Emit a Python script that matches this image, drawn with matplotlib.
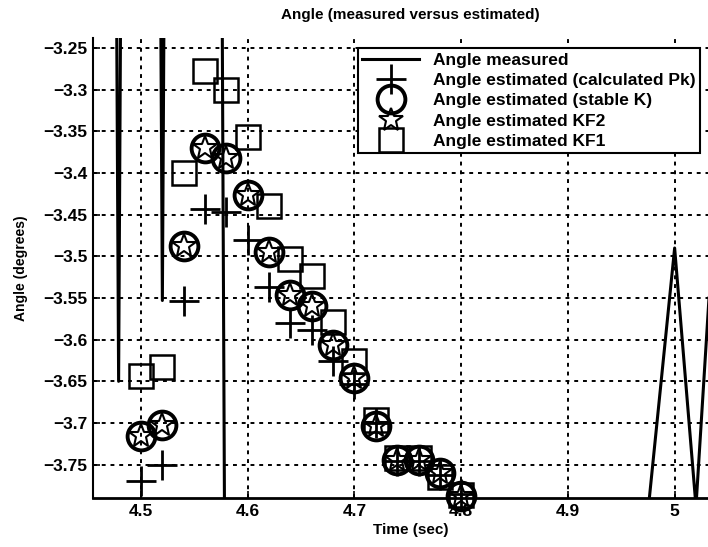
import matplotlib
matplotlib.use("Agg")
import matplotlib.pyplot as plt
from matplotlib import rc

rc('font', family='Liberation Sans', weight='bold')

# measured angle (noisy, mostly off the visible range)
meas_time = [4.470, 4.479, 4.488, 4.511, 4.520, 4.529, 4.570, 4.586, 4.950, 4.970, 5.000, 5.020, 5.040, 5.060]
meas_angle = [-1.5, -3.650, -1.5, -1.5, -3.553, -1.5, -1.5, -6.0, -6.0, -3.87, -3.49, -3.80, -3.39, -3.0]

# estimator outputs, one sample every 0.02 s
est_time = [4.50, 4.52, 4.54, 4.56, 4.58, 4.60, 4.62, 4.64, 4.66, 4.68, 4.70, 4.72, 4.74, 4.76, 4.78, 4.80]
calc_pk = [-3.770, -3.750, -3.553, -3.443, -3.447, -3.480, -3.537, -3.580,
           -3.588, -3.625, -3.653, -3.700, -3.745, -3.745, -3.762, -3.785]
stable_k = [-3.716, -3.702, -3.488, -3.370, -3.382, -3.426, -3.495, -3.546,
            -3.560, -3.606, -3.646, -3.704, -3.744, -3.744, -3.760, -3.788]
kf2 = [-3.716, -3.702, -3.488, -3.370, -3.382, -3.426, -3.495, -3.546,
       -3.560, -3.606, -3.646, -3.704, -3.744, -3.744, -3.760, -3.788]
kf1 = [-3.644, -3.633, -3.400, -3.278, -3.300, -3.357, -3.440, -3.503,
       -3.524, -3.579, -3.626, -3.696, -3.742, -3.742, -3.765, -3.786]

xticks = [4.5, 4.6, 4.7, 4.8, 4.9, 5.0]
xtick_labels = ['4.5', '4.6', '4.7', '4.8', '4.9', '5']
yticks = [-3.25, -3.3, -3.35, -3.4, -3.45, -3.5, -3.55, -3.6, -3.65, -3.7, -3.75]
ytick_labels = ['\u22123.25', '\u22123.3', '\u22123.35', '\u22123.4', '\u22123.45', '\u22123.5',
                '\u22123.55', '\u22123.6', '\u22123.65', '\u22123.7', '\u22123.75']

fig = plt.figure(figsize=(7.08, 5.47), dpi=100)
ax = fig.add_axes([93/708, 49/547, 635/708, 460/547])

ax.plot(meas_time, meas_angle, color='k', lw=2.2, label='Angle measured')
ax.plot(est_time, calc_pk, ls='none', marker='+', ms=21, mew=2, color='k',
        clip_on=False, label='Angle estimated (calculated Pk)')
ax.plot(est_time, stable_k, ls='none', marker='o', ms=20, mew=2.8, mfc='none', color='k',
        clip_on=False, label='Angle estimated (stable K)')
ax.plot(est_time, kf2, ls='none', marker='*', ms=18, mew=1.5, mfc='none', color='k',
        clip_on=False, label='Angle estimated KF2')
ax.plot(est_time, kf1, ls='none', marker='s', ms=17, mew=1.8, mfc='none', color='k',
        clip_on=False, label='Angle estimated KF1')

ax.set_xlim(4.455, 5.05)
ax.set_ylim(-3.79, -3.238)
ax.set_xticks(xticks)
ax.set_xticklabels(xtick_labels)
ax.set_yticks(yticks)
ax.set_yticklabels(ytick_labels)
ax.tick_params(direction='in', length=5, width=1.2, labelsize=12.5, pad=4)
ax.grid(True, color='k', ls=(0, (2, 2.5)), lw=1.4)
ax.spines['top'].set_visible(False)
ax.spines['right'].set_visible(False)
ax.spines['left'].set_linewidth(1.5)
ax.spines['bottom'].set_linewidth(2)

ax.set_title('Angle (measured versus estimated)', fontsize=11, fontweight='bold', pad=14)
ax.set_xlabel('Time (sec)', fontsize=11, fontweight='bold', labelpad=3)
ax.set_ylabel('Angle (degrees)', fontsize=10, fontweight='bold', labelpad=11)

leg = ax.legend(loc='upper left', bbox_to_anchor=(0.417, 0.978), borderaxespad=0,
                fontsize=12.5, handlelength=3.3, numpoints=1, fancybox=False,
                framealpha=1, edgecolor='k', labelspacing=0.3, borderpad=0.25,
                handletextpad=0.8)
leg.get_frame().set_linewidth(1.5)

fig.savefig('out.png', dpi=100)
